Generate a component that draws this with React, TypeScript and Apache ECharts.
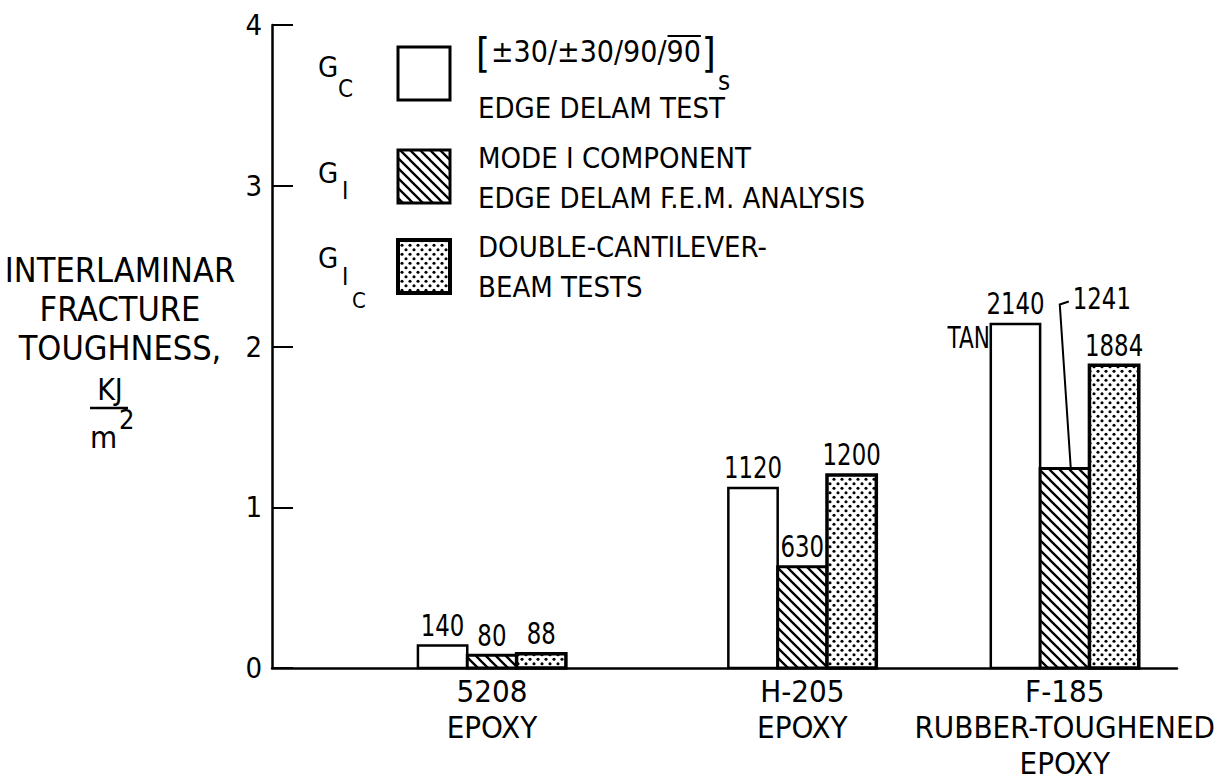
import React, { useEffect, useRef } from "react";
import * as echarts from "echarts";

// ---------- data ----------
const categories = ["5208\nEPOXY", "H-205\nEPOXY", "F-185\nRUBBER-TOUGHENED\nEPOXY"];
const categoryPositions = [2.43, 5.86, 8.76];
const gcEdgeDelam = [0.14, 1.12, 2.14];
const giModeI = [0.08, 0.63, 1.241];
const gicDoubleCantilever = [0.088, 1.2, 1.884];
const gcNotes = ["", "", "TAN"];
const giLeader = [false, false, true];
const yMin = 0;
const yMax = 4;
const yInterval = 1;
const yTitleLines = ["INTERLAMINAR", "FRACTURE", "TOUGHNESS,"];
const unitNumerator = "KJ";
const unitDenominator = "m";
const unitPower = "2";
const layupPrefix = "±30/±30/90/";
const layupOverlined = "90";
const layupSubscript = "s";
const legendLines1 = ["EDGE DELAM TEST"];
const legendLines2 = ["MODE I COMPONENT", "EDGE DELAM F.E.M. ANALYSIS"];
const legendLines3 = ["DOUBLE-CANTILEVER-", "BEAM TESTS"];

// ---------- style ----------
const FONT = '"DejaVu Sans Condensed", "Liberation Sans Narrow", "Arial Narrow", sans-serif';
const BAR_W = 0.545;

const svgUrl = (s: string) => "data:image/svg+xml;charset=utf-8," + encodeURIComponent(s);
const hatchPattern = {
  image: svgUrl(
    '<svg xmlns="http://www.w3.org/2000/svg" width="10" height="10"><rect width="10" height="10" fill="#fff"/><path d="M-2,-2L12,12M-2,8L2,12M8,-2L12,2" stroke="#000" stroke-width="2.3"/></svg>'
  ),
  imageWidth: 10,
  imageHeight: 10,
  repeat: "repeat",
};
const dotPattern = {
  image: svgUrl(
    '<svg xmlns="http://www.w3.org/2000/svg" width="8" height="9"><rect width="8" height="9" fill="#fff"/><circle cx="2" cy="2.25" r="1.55" fill="#000"/><circle cx="6" cy="6.75" r="1.55" fill="#000"/></svg>'
  ),
  imageWidth: 8,
  imageHeight: 9,
  repeat: "repeat",
};

function txt(text: string, x: number, y: number, size: number, align = "left", scaleX = 1) {
  return {
    type: "text",
    silent: true,
    x,
    y,
    scaleX,
    style: {
      text,
      x: 0,
      y: 0,
      font: `${size}px ${FONT}`,
      fill: "#000",
      textAlign: align,
      verticalAlign: "middle",
      textVerticalAlign: "middle",
    },
  };
}

function measure(text: string, size: number) {
  const c = document.createElement("canvas");
  const ctx = c.getContext("2d")!;
  ctx.font = `${size}px ${FONT}`;
  return ctx.measureText(text).width;
}

function makeRender(offset: number, fill: any, lineWidth: number, notes: string[], leaders: boolean[]) {
  return (params: any, api: any) => {
    const x = api.value(0) as number;
    const v = api.value(1) as number;
    const idx = params.dataIndex;
    const xc = x + offset * BAR_W;
    const tl = api.coord([xc - BAR_W / 2, v]);
    const br = api.coord([xc + BAR_W / 2, 0]);
    const cx = (tl[0] + br[0]) / 2;
    const label = String(Math.round(v * 1000));
    const children: any[] = [
      {
        type: "rect",
        shape: { x: tl[0], y: tl[1], width: br[0] - tl[0], height: br[1] - tl[1] },
        style: { fill, stroke: "#000", lineWidth },
      },
    ];
    if (leaders[idx]) {
      children.push({
        type: "polyline",
        shape: { points: [[cx + 6, tl[1]], [cx - 5, tl[1] - 164], [cx + 4, tl[1] - 167]] },
        style: { stroke: "#000", lineWidth: 2, fill: null },
      });
      children.push(txt(label, cx + 8, tl[1] - 170, 31, "left", 0.82));
    } else {
      children.push(txt(label, cx, tl[1] - 20, 31, "center", 0.82));
    }
    if (notes[idx]) {
      children.push(txt(notes[idx], tl[0] - 1, tl[1] + 14, 30, "right", 0.8));
    }
    return { type: "group", children };
  };
}

export default function App() {
  const ref = useRef<HTMLDivElement>(null);
  useEffect(() => {
    document.body.style.margin = "0";
    const chart = echarts.init(ref.current!, null, { renderer: "svg" });

    const lx = 491;
    const wPrefix = measure(layupPrefix, 30);
    const wOver = measure(layupOverlined, 30);
    const bracketR = lx + wPrefix + wOver + 1;
    const wBr = measure("]", 40);

    const graphic: any[] = [
      // legend symbols
      txt("G", 318, 67, 29), txt("C", 338, 89, 24),
      txt("G", 318, 173, 29), txt("I", 342, 191, 24),
      txt("G", 318, 258, 29), txt("I", 342, 277, 24), txt("C", 352, 300, 22),
      { type: "rect", shape: { x: 398, y: 47, width: 52, height: 53 }, style: { fill: "#fff", stroke: "#000", lineWidth: 3 } },
      { type: "rect", shape: { x: 398, y: 150, width: 52, height: 53 }, style: { fill: hatchPattern, stroke: "#000", lineWidth: 3 } },
      { type: "rect", shape: { x: 398, y: 240, width: 52, height: 53 }, style: { fill: dotPattern, stroke: "#000", lineWidth: 4 } },
      // legend line 1
      txt("[", 476, 53, 40),
      txt(layupPrefix + layupOverlined, lx, 51, 30),
      { type: "line", shape: { x1: lx + wPrefix + 1, y1: 36, x2: lx + wPrefix + wOver, y2: 36 }, style: { stroke: "#000", lineWidth: 2 } },
      txt("]", bracketR, 53, 40),
      txt(layupSubscript, bracketR + wBr + 2, 81, 26),
      txt(legendLines1[0], 478, 108, 29),
      txt(legendLines2[0], 478, 158, 29),
      txt(legendLines2[1], 478, 198, 29),
      txt(legendLines3[0], 478, 247, 29),
      txt(legendLines3[1], 478, 287, 29),
      // y title
      txt(yTitleLines[0], 120, 270, 34, "center"),
      txt(yTitleLines[1], 120, 309, 34, "center"),
      txt(yTitleLines[2], 120, 348, 34, "center"),
      txt(unitNumerator, 110, 389, 30, "center"),
      { type: "line", shape: { x1: 90, y1: 408, x2: 128, y2: 408 }, style: { stroke: "#000", lineWidth: 2.5 } },
      txt(unitDenominator, 90, 437, 31, "left"),
      txt(unitPower, 119, 419, 27, "left"),
    ];

    chart.setOption({
      animation: false,
      backgroundColor: "#fff",
      grid: { left: 272, right: 47, top: 25, bottom: 113, containLabel: false, outerBoundsMode: "none" },
      xAxis: {
        type: "value",
        min: 0,
        max: 10,
        axisLine: { show: true, lineStyle: { color: "#000", width: 2.5 } },
        axisTick: { show: false },
        splitLine: { show: false },
        axisLabel: {
          customValues: categoryPositions,
          formatter: (v: number) => {
            const i = categoryPositions.findIndex((p) => Math.abs(p - v) < 1e-6);
            return i >= 0 ? categories[i] : "";
          },
          color: "#000",
          fontFamily: FONT,
          fontSize: 31,
          lineHeight: 36,
          margin: 5,
          align: "center",
        },
      },
      yAxis: {
        type: "value",
        min: yMin,
        max: yMax,
        interval: yInterval,
        axisLine: { show: true, lineStyle: { color: "#000", width: 2.5 } },
        axisTick: { show: true, inside: true, length: 21, lineStyle: { color: "#000", width: 2 } },
        splitLine: { show: false },
        axisLabel: { color: "#000", fontFamily: FONT, fontSize: 29, margin: 10 },
      },
      graphic,
      series: [
        {
          type: "custom",
          name: "Gc edge delam test",
          renderItem: makeRender(-1, "#fff", 2.5, gcNotes, [false, false, false]),
          data: gcEdgeDelam.map((v, i) => [categoryPositions[i], v]),
          encode: { x: 0, y: 1 },
        },
        {
          type: "custom",
          name: "GI mode I component",
          renderItem: makeRender(0, hatchPattern, 3, ["", "", ""], giLeader),
          data: giModeI.map((v, i) => [categoryPositions[i], v]),
          encode: { x: 0, y: 1 },
        },
        {
          type: "custom",
          name: "GIc double-cantilever-beam tests",
          renderItem: makeRender(1, dotPattern, 3.5, ["", "", ""], [false, false, false]),
          data: gicDoubleCantilever.map((v, i) => [categoryPositions[i], v]),
          encode: { x: 0, y: 1 },
        },
      ],
    });
    return () => chart.dispose();
  }, []);
  return <div ref={ref} style={{ width: 1224, height: 781 }} />;
}
